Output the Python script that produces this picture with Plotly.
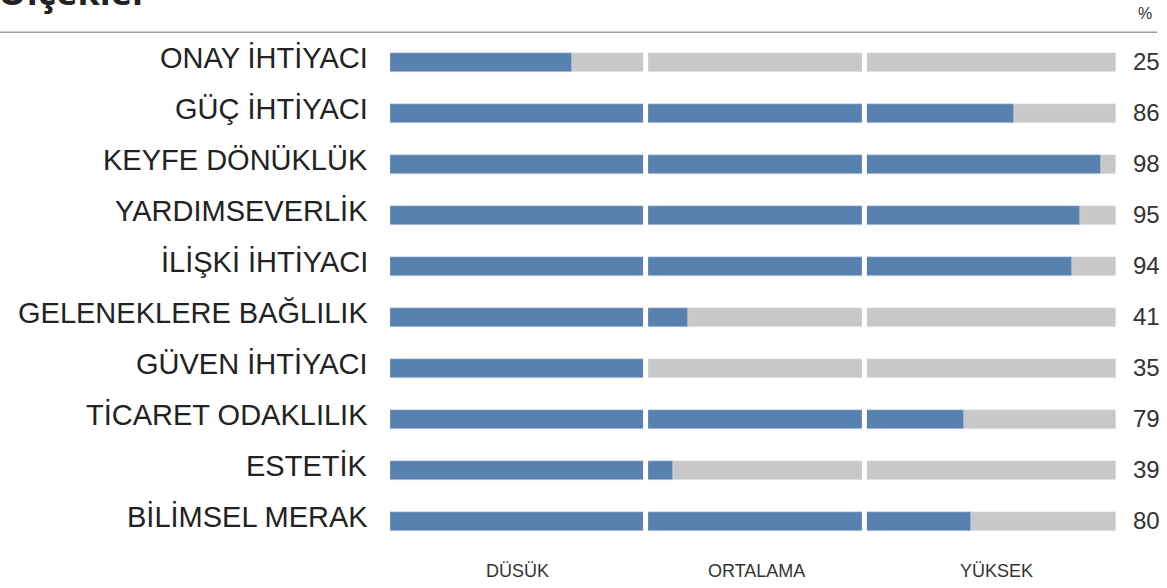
import plotly.graph_objects as go

categories = ["ONAY İHTİYACI", "GÜÇ İHTİYACI", "KEYFE DÖNÜKLÜK", "YARDIMSEVERLİK",
              "İLİŞKİ İHTİYACI", "GELENEKLERE BAĞLILIK", "GÜVEN İHTİYACI",
              "TİCARET ODAKLILIK", "ESTETİK", "BİLİMSEL MERAK"]
values = [25, 86, 98, 95, 94, 41, 35, 79, 39, 80]
full_scale = [100] * len(categories)
band_labels = ["DÜSÜK", "ORTALAMA", "YÜKSEK"]
band_centers = [17.5, 50.5, 83.5]
band_breaks = [35, 65]

BLUE = "#5881b0"
GRAY = "#c8c8c8"
FONT = "Liberation Sans, Arial, sans-serif"

fig = go.Figure()
fig.add_trace(go.Bar(y=categories, x=full_scale, orientation="h", marker_color=GRAY,
                     width=0.39, hoverinfo="skip", showlegend=False))
fig.add_trace(go.Bar(y=categories, x=values, orientation="h", marker_color=BLUE,
                     width=0.39, showlegend=False))

shapes = []
for b in band_breaks:
    shapes.append(dict(type="rect", xref="x", yref="paper", xsizemode="pixel", xanchor=b,
                       x0=-1 if b == 35 else 0, x1=4 if b == 35 else 5, y0=0, y1=1,
                       fillcolor="white", line=dict(width=0), layer="above"))
# header rule
shapes.append(dict(type="line", xref="paper", yref="paper", x0=-0.54, x1=1.0565,
                   y0=1.0094, y1=1.0094, line=dict(color="#a0a0a0", width=1.5)))

annotations = []
for c, v in zip(categories, values):
    annotations.append(dict(x=0, xref="paper", y=c, yref="y", text=c, showarrow=False,
                            xanchor="right", yanchor="middle", xshift=-20, yshift=5,
                            font=dict(family=FONT, size=29, color="#222222")))
    annotations.append(dict(x=1, xref="paper", y=c, yref="y", text=str(v), showarrow=False,
                            xanchor="left", yanchor="middle", xshift=15, yshift=1,
                            font=dict(family=FONT, size=24, color="#333333")))
for lab, cx in zip(band_labels, band_centers):
    annotations.append(dict(x=cx, xref="x", y=0, yref="paper", text=lab, showarrow=False,
                            xanchor="center", yanchor="middle", yshift=-24,
                            font=dict(family=FONT, size=18, color="#333333")))
annotations.append(dict(x=1, xref="paper", y=1, yref="paper", text="%", showarrow=False,
                        xanchor="left", yanchor="middle", xshift=20, yshift=24,
                        font=dict(family="Liberation Sans Narrow, Arial Narrow, " + FONT,
                                  size=16, color="#333333")))
annotations.append(dict(x=0, xref="paper", y=1, yref="paper", text="<b>Ölçekler</b>",
                        showarrow=False, xanchor="left", yanchor="bottom",
                        xshift=-394, yshift=19,
                        font=dict(family="Open Sans, sans-serif", size=36, color="#222222")))

fig.update_layout(
    width=1167, height=588,
    margin=dict(l=390, r=51, t=36.5, b=40.5),
    paper_bgcolor="white", plot_bgcolor="white",
    barmode="overlay", bargap=0,
    shapes=shapes, annotations=annotations,
    xaxis=dict(range=[0, 100], showgrid=False, zeroline=False, showticklabels=False,
               showline=False, fixedrange=True),
    yaxis=dict(categoryorder="array", categoryarray=categories, autorange="reversed",
               showgrid=False, zeroline=False, showline=False, ticks="",
               showticklabels=False),
)

fig.write_html("out.html", config={"displayModeBar": False},
               post_script="document.body.style.margin='0';document.body.style.overflow='hidden';")
